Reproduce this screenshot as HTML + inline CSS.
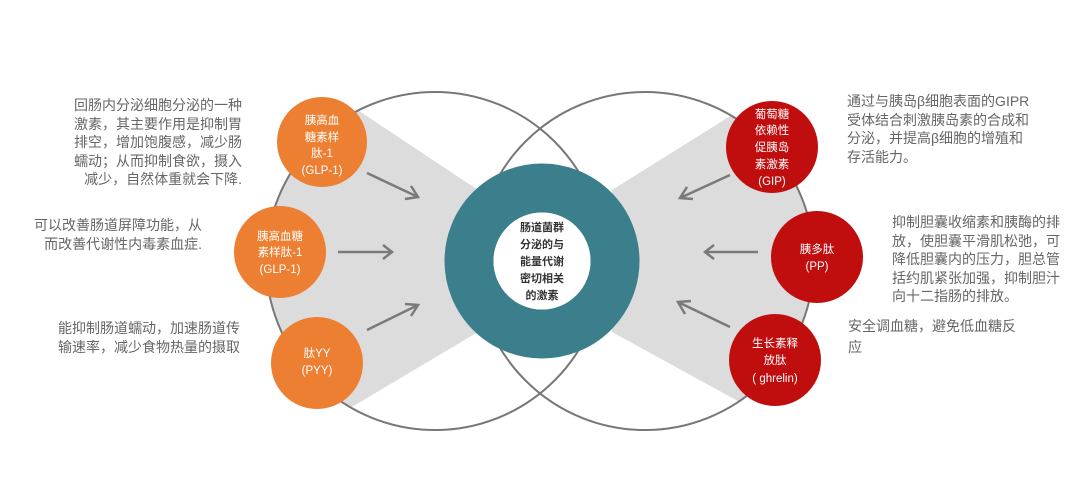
<!DOCTYPE html>
<html><head><meta charset="utf-8"><style>
body{margin:0;width:1080px;height:504px;background:#fff;position:relative;overflow:hidden;font-family:"Liberation Sans","Noto Sans CJK SC",sans-serif}
.t{position:absolute;font-size:14px;color:#666;line-height:18.5px;white-space:nowrap}
.r{text-align:right}
</style></head><body>
<svg width="1080" height="504" style="position:absolute;left:0;top:0" font-family="Liberation Sans, Noto Sans CJK SC, sans-serif">
<defs>
<clipPath id="cl"><circle cx="435" cy="261" r="169"/></clipPath>
<clipPath id="cr"><circle cx="645" cy="261" r="169"/></clipPath>
</defs>
<polygon clip-path="url(#cl)" points="350,105 478,190 478,332 330,420 250,420 250,105" fill="#dcdcdc"/>
<polygon clip-path="url(#cr)" points="740,110 612,190 612,332 745,405 830,405 830,110" fill="#dcdcdc"/>
<circle cx="435" cy="261" r="169" fill="none" stroke="#777" stroke-width="2"/>
<circle cx="645" cy="261" r="169" fill="none" stroke="#777" stroke-width="2"/>
<circle cx="542" cy="261" r="73" fill="none" stroke="#3b7f8c" stroke-width="49"/>
<circle cx="542" cy="261" r="48.5" fill="#fff"/>
<g font-size="11" font-weight="bold" fill="#333" text-anchor="middle">
<text x="542" y="231">肠道菌群</text><text x="542" y="248">分泌的与</text><text x="542" y="265">能量代谢</text><text x="542" y="282">密切相关</text><text x="542" y="299">的激素</text></g>
<g stroke="#7a7a7a" stroke-width="2.5" fill="none">
<path d="M367 173 L418 197 M405 199 L418 197 L411 186"/>
<path d="M338 252 L392 252 M383 245 L392 252 L383 259"/>
<path d="M367 330 L418 305 M405 304 L418 305 L411 316"/>
<path d="M730 175 L680 198 M687 187 L680 198 L693 199"/>
<path d="M758 252 L705 252 M714 245 L705 252 L714 259"/>
<path d="M730 327 L678 302 M685 314 L678 302 L691 301"/>
</g>
<g fill="#ec7f32"><circle cx="322" cy="142" r="45"/><circle cx="280" cy="252" r="46"/><circle cx="317" cy="363" r="46"/></g>
<g fill="#c00d0e"><circle cx="772" cy="147" r="46"/><circle cx="817" cy="257" r="46"/><circle cx="775" cy="360" r="46"/></g>
<g font-size="11.5" fill="#fff" text-anchor="middle">
<text x="322" y="124">胰高血</text><text x="322" y="141">糖素样</text><text x="322" y="157">肽-1</text><text x="322" y="174">(GLP-1)</text>
<text x="280" y="240">胰高血糖</text><text x="280" y="256">素样肽-1</text><text x="280" y="273">(GLP-1)</text>
<text x="317" y="357">肽YY</text><text x="317" y="374">(PYY)</text>
<text x="772" y="118">葡萄糖</text><text x="772" y="134">依赖性</text><text x="772" y="151">促胰岛</text><text x="772" y="168">素激素</text><text x="772" y="185">(GIP)</text>
<text x="817" y="253">胰多肽</text><text x="817" y="270">(PP)</text>
<text x="775" y="347">生长素释</text><text x="775" y="364">放肽</text><text x="775" y="382">( ghrelin)</text>
</g>
</svg>
<div class="t r" style="right:838px;top:96px">回肠内分泌细胞分泌的一种<br>激素，其主要作用是抑制胃<br>排空，增加饱腹感，减少肠<br>蠕动；从而抑制食欲，摄入<br>减少，自然体重就会下降.</div>
<div class="t r" style="right:878px;top:216px">可以改善肠道屏障功能，从<br>而改善代谢性内毒素血症.</div>
<div class="t r" style="right:840px;top:319px">能抑制肠道蠕动，加速肠道传<br>输速率，减少食物热量的摄取</div>
<div class="t" style="left:847px;top:92px">通过与胰岛β细胞表面的GIPR<br>受体结合刺激胰岛素的合成和<br>分泌，并提高β细胞的增殖和<br>存活能力。</div>
<div class="t" style="left:892px;top:213px">抑制胆囊收缩素和胰酶的排<br>放，使胆囊平滑肌松弛，可<br>降低胆囊内的压力，胆总管<br>括约肌紧张加强，抑制胆汁<br>向十二指肠的排放。</div>
<div class="t" style="left:848px;top:316px;line-height:21px">安全调血糖，避免低血糖反<br>应</div>
</body></html>
